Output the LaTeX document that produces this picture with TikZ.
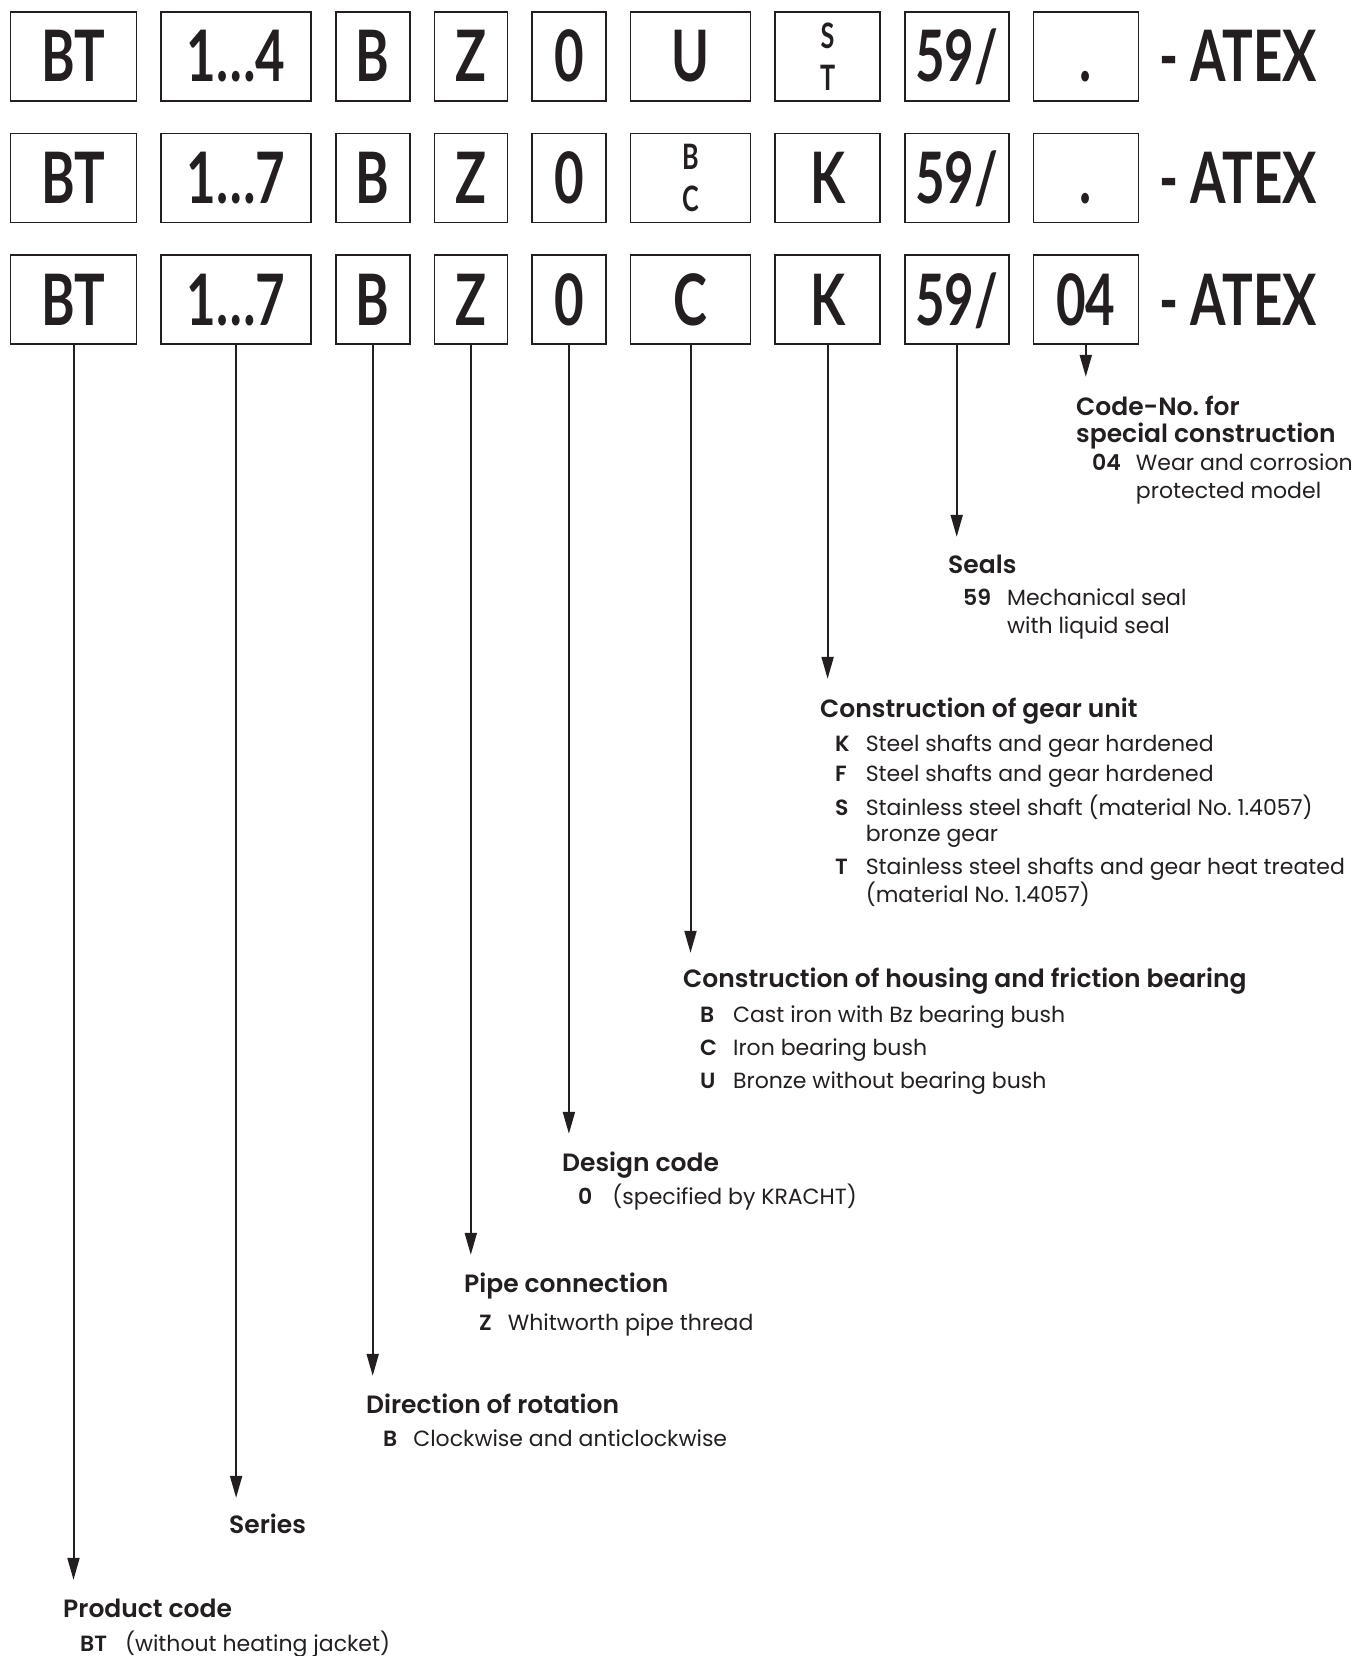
\documentclass[tikz,border=0pt]{standalone}
\usepackage{fontspec}
\setmainfont{Poppins}[BoldFont={Poppins SemiBold}]
\newfontfamily\codefont[FakeStretch=0.72]{Lato}
\usetikzlibrary{arrows.meta,positioning}
\definecolor{ink}{HTML}{231F20}

\begin{document}
\begin{tikzpicture}[x=1pt, y=-1pt, color=ink,
    >={Triangle[length=22pt,width=12pt]}, node distance=23pt,
    code/.style={draw, line width=1.6pt, minimum height=89pt, inner sep=0pt,
      font=\fontsize{71}{71}\selectfont\codefont\bfseries, text height=51pt, text depth=0pt},
    stack/.style={draw, line width=1.6pt, minimum height=89pt, inner sep=0pt,
      align=center, font=\fontsize{35}{42}\selectfont\codefont\bfseries},
    tail/.style={inner sep=0pt, font=\fontsize{71}{71}\selectfont\codefont\bfseries,
      text height=51pt, text depth=0pt},
    hd/.style={anchor=base west, inner sep=0pt, font=\fontsize{25}{26}\selectfont\bfseries,
      text height=17pt, text depth=0pt},
    itm/.style={anchor=base west, inner sep=0pt, font=\fontsize{22}{26}\selectfont},
    arr/.style={->, line width=2pt}]
  \useasboundingbox (0,0) rectangle (1371,1656);

  % type codes, three rows
  \node[code, minimum width=126pt] (r1bt) at (73.5,56.5) {BT};
  \node[code, minimum width=150pt, right=of r1bt] (r1ser) {1…4};
  \node[code, minimum width=74pt, right=of r1ser] (r1dir) {B};
  \node[code, minimum width=73pt, right=of r1dir] (r1pipe) {Z};
  \node[code, minimum width=74pt, right=of r1pipe] (r1des) {0};
  \node[code, minimum width=120pt, right=of r1des] (r1hou) {U};
  \node[stack, minimum width=105pt, right=of r1hou] (r1gear) {S\\T};
  \node[code, minimum width=104pt, right=of r1gear] (r1seal) {59/};
  \node[code, minimum width=105pt, right=of r1seal] (r1spec) {.};
  \node[tail, right=20pt of r1spec] (r1atex) {- ATEX};

  \node[code, minimum width=126pt, below=31pt of r1bt] (r2bt) {BT};
  \node[code, minimum width=150pt, right=of r2bt] (r2ser) {1…7};
  \node[code, minimum width=74pt, right=of r2ser] (r2dir) {B};
  \node[code, minimum width=73pt, right=of r2dir] (r2pipe) {Z};
  \node[code, minimum width=74pt, right=of r2pipe] (r2des) {0};
  \node[stack, minimum width=120pt, right=of r2des] (r2hou) {B\\C};
  \node[code, minimum width=105pt, right=of r2hou] (r2gear) {K};
  \node[code, minimum width=104pt, right=of r2gear] (r2seal) {59/};
  \node[code, minimum width=105pt, right=of r2seal] (r2spec) {.};
  \node[tail, right=20pt of r2spec] (r2atex) {- ATEX};

  \node[code, minimum width=126pt, below=31pt of r2bt] (r3bt) {BT};
  \node[code, minimum width=150pt, right=of r3bt] (r3ser) {1…7};
  \node[code, minimum width=74pt, right=of r3ser] (r3dir) {B};
  \node[code, minimum width=73pt, right=of r3dir] (r3pipe) {Z};
  \node[code, minimum width=74pt, right=of r3pipe] (r3des) {0};
  \node[code, minimum width=120pt, right=of r3des] (r3hou) {C};
  \node[code, minimum width=105pt, right=of r3hou] (r3gear) {K};
  \node[code, minimum width=104pt, right=of r3gear] (r3seal) {59/};
  \node[code, minimum width=105pt, right=of r3seal] (r3spec) {04};
  \node[tail, right=20pt of r3spec] (r3atex) {- ATEX};

  % explanations
  \node[hd] (spechd) at (1076,415) {\begin{tabular}[t]{@{}l@{}}Code-No.\ for\\special construction\end{tabular}};
  \node[itm] (specit) at ([shift={(16,55)}]spechd.base west) {\begin{tabular}[t]{@{}l@{\hspace{15pt}}l@{}}
    \textbf{04} & Wear and corrosion\\[2pt]
     & protected model
  \end{tabular}};

  \node[hd] (sealhd) at (948,573) {Seals};
  \node[itm] (sealit) at ([shift={(15,32)}]sealhd.base west) {\begin{tabular}[t]{@{}l@{\hspace{16pt}}l@{}}
    \textbf{59} & Mechanical seal\\[2pt]
     & with liquid seal
  \end{tabular}};

  \node[hd] (gearhd) at (820,717) {Construction of gear unit};
  \node[itm] (gearit) at ([shift={(15,34)}]gearhd.base west) {\begin{tabular}[t]{@{}l@{\hspace{16pt}}l@{}}
    \textbf{K} & Steel shafts and gear hardened\\[4pt]
    \textbf{F} & Steel shafts and gear hardened\\[6pt]
    \textbf{S} & Stainless steel shaft (material No.\ 1.4057)\\
     & bronze gear\\[7pt]
    \textbf{T} & Stainless steel shafts and gear heat treated\\
     & (material No.\ 1.4057)
  \end{tabular}};

  \node[hd] (houhd) at (683,987) {Construction of housing and friction bearing};
  \node[itm] (houit) at ([shift={(17,35)}]houhd.base west) {\begin{tabular}[t]{@{}l@{\hspace{16pt}}l@{}}
    \textbf{B} & Cast iron with Bz bearing bush\\[7pt]
    \textbf{C} & Iron bearing bush\\[7pt]
    \textbf{U} & Bronze without bearing bush
  \end{tabular}};

  \node[hd] (deshd) at (562,1171) {Design code};
  \node[itm] (desit) at ([shift={(16,33)}]deshd.base west) {\textbf{0}\hspace{20pt}(specified by KRACHT)};

  \node[hd] (pipehd) at (464,1292) {Pipe connection};
  \node[itm] (pipeit) at ([shift={(15,38)}]pipehd.base west) {\textbf{Z}\hspace{16pt}Whitworth pipe thread};

  \node[hd] (dirhd) at (366,1413) {Direction of rotation};
  \node[itm] (dirit) at ([shift={(17,33)}]dirhd.base west) {\textbf{B}\hspace{16pt}Clockwise and anticlockwise};

  \node[hd] (serhd) at (229,1533) {Series};

  \node[hd] (prodhd) at (63,1617) {Product code};
  \node[itm] (prodit) at ([shift={(17,34)}]prodhd.base west) {\textbf{BT}\hspace{18pt}(without heating jacket)};

  % leader arrows
  \draw[arr] (r3bt.south) -- ([yshift=20pt]r3bt.south |- prodhd.north);
  \draw[arr] (r3ser.south) -- ([yshift=18pt]r3ser.south |- serhd.north);
  \draw[arr] (r3dir.south) -- ([yshift=20pt]r3dir.south |- dirhd.north);
  \draw[arr] (r3pipe.south) -- ([yshift=20pt]r3pipe.south |- pipehd.north);
  \draw[arr] (r3des.south) -- ([yshift=20pt]r3des.south |- deshd.north);
  \draw[arr] (r3hou.south) -- ([yshift=17pt]r3hou.south |- houhd.north);
  \draw[arr] (r3gear.south) -- ([yshift=21pt]r3gear.south |- gearhd.north);
  \draw[arr] (r3seal.south) -- ([yshift=19pt]r3seal.south |- sealhd.north);
  \draw[arr] (r3spec.south) -- ([yshift=21pt]r3spec.south |- spechd.north);
\end{tikzpicture}
\end{document}
